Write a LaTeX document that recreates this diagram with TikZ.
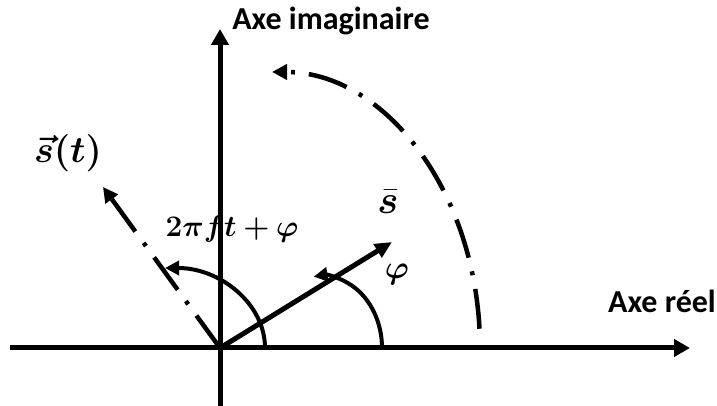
\documentclass[tikz,border=0pt]{standalone}
\usepackage{amsmath,bm,graphicx}
\usepackage{fontspec}
\newfontfamily\lbl{Carlito}
\usetikzlibrary{arrows.meta}
\begin{document}
\begin{tikzpicture}[x=1pt,y=1pt,
  axis/.style={line width=5pt,-{Triangle[length=16pt,width=17pt]}},
  vect/.style={line width=5pt,-{Triangle[length=17pt,width=15pt]}},
  anglearc/.style={line width=4pt,-{Triangle[length=14pt,width=14pt]}},
  dashdot/.style={line width=4.5pt,dash pattern=on 40pt off 14pt on 4pt off 14pt,-{Triangle[length=15pt,width=15pt]}},
  axislabel/.style={font=\lbl\bfseries\fontsize{32}{38}\selectfont,inner sep=0pt},
  mathlabel/.style={font=\fontsize{24.88}{30}\selectfont,inner sep=0pt}]
\useasboundingbox (0,0) rectangle (717,406);
\coordinate (O) at (220,58);
\coordinate (xl) at (10,58);
\coordinate (xr) at (690,58);
\coordinate (yb) at (220,0);
\coordinate (yt) at (220,377);
\coordinate (sbar) at (392,164);
\coordinate (st) at (103,219);
\draw[axis] (xl) -- (xr);
\draw[axis] (yb) -- (yt);
\draw[vect] (O) -- (sbar);
\draw[dashdot] (O) -- (st);
% angle phi
\draw[anglearc] (382,58) arc[start angle=0,end angle=98,x radius=60,y radius=72];
% angle 2 pi f t + phi
\draw[anglearc] (265,58) arc[start angle=0,end angle=90,x radius=100,y radius=80];
% rotation arc
\draw[dashdot] (272,58) ++(4:208 and 276) arc[start angle=4,end angle=90,x radius=208,y radius=276];
\node[axislabel] (ai) at (331,385) {Axe imaginaire};
\node[axislabel] (ar) at (662,105) {Axe réel};
\node[mathlabel] (lst) at (68,253) {\scalebox{1.5}{$\bm{\vec{s}(t)}$}};
\node[mathlabel] (lsb) at (388,204) {\scalebox{1.6}{$\bm{\bar{s}}$}};
\node[mathlabel] (lphi) at (397,132) {\scalebox{1.3}{$\bm{\varphi}$}};
\node[mathlabel] (lang) at (232,177) {\scalebox{1.2}{$\bm{2\pi f t+\varphi}$}};
\end{tikzpicture}
\end{document}
